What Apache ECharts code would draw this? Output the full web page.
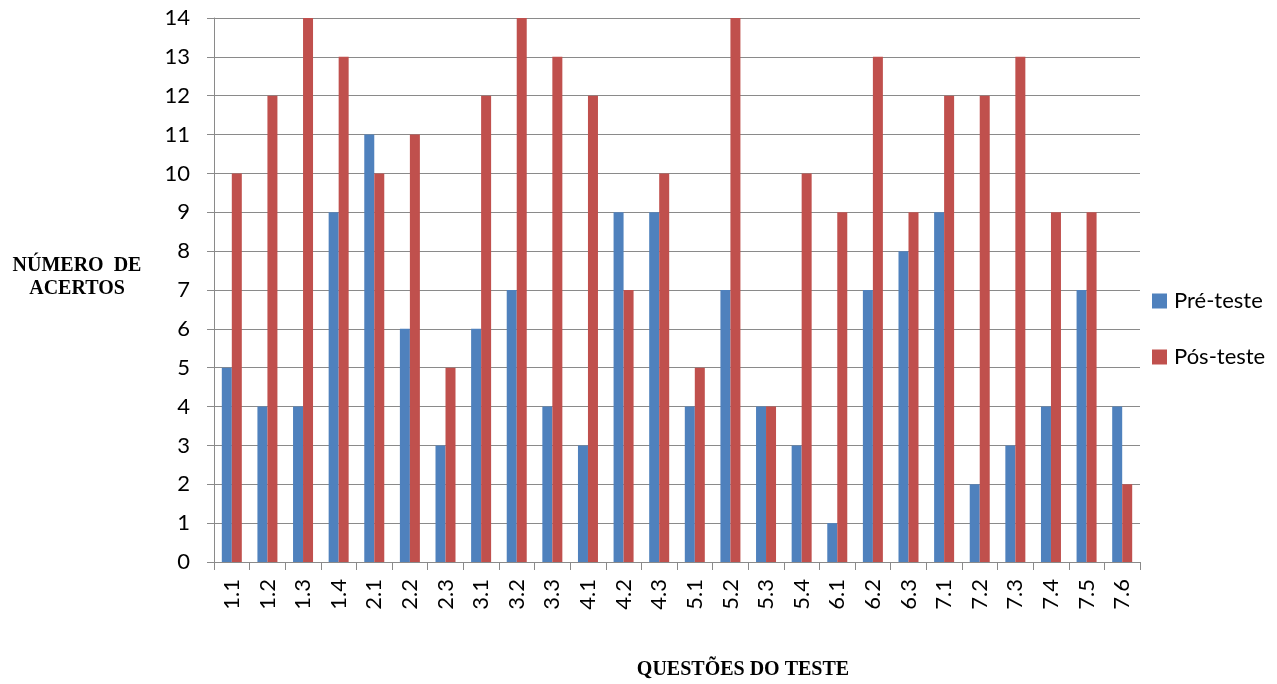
<!DOCTYPE html>
<html>
<head>
<meta charset="utf-8">
<script src="https://cdn.jsdelivr.net/npm/echarts@6/dist/echarts.min.js"></script>
<style>
  html, body { margin: 0; padding: 0; background: #fff; }
  #chart { width: 1277px; height: 684px; }
</style>
</head>
<body>
<div id="chart"></div>
<script>
// Questions of the test
const questoes = ['1.1','1.2','1.3','1.4','2.1','2.2','2.3','3.1','3.2','3.3','4.1','4.2','4.3','5.1','5.2','5.3','5.4','6.1','6.2','6.3','7.1','7.2','7.3','7.4','7.5','7.6'];
// Correct answers before and after
const preTeste = [5,4,4,9,11,6,3,6,7,4,3,9,9,4,7,4,3,1,7,8,9,2,3,4,7,4];
const posTeste = [10,12,14,13,10,11,5,12,14,13,12,7,10,5,14,4,10,9,13,9,12,12,13,9,9,2];

const labelFont = 'Lato, "Open Sans", sans-serif';
const titleFont = 'bold 20px "Liberation Serif", "Times New Roman", serif';
const gridColor = '#8a8a8a';

const chart = echarts.init(document.getElementById('chart'));
chart.setOption({
  animation: false,
  backgroundColor: '#ffffff',
  grid: { left: 214, right: 137, top: 18, bottom: 122, containLabel: false },
  legend: {
    orient: 'vertical',
    left: 1147,
    top: 285,
    itemWidth: 15,
    itemHeight: 15,
    itemGap: 34,
    icon: 'rect',
    textStyle: { fontFamily: labelFont, fontSize: 22, lineHeight: 22, color: '#000', padding: [0, 0, 0, 2] },
    data: ['Pré-teste', 'Pós-teste']
  },
  xAxis: {
    type: 'category',
    data: questoes,
    boundaryGap: true,
    axisLine: { show: true, lineStyle: { color: gridColor, width: 1 } },
    axisTick: { show: true, length: 8, alignWithLabel: false, lineStyle: { color: gridColor } },
    axisLabel: { rotate: 90, fontFamily: labelFont, fontSize: 22, color: '#000', margin: 17, interval: 0 }
  },
  yAxis: {
    type: 'value',
    min: 0,
    max: 14,
    interval: 1,
    axisLine: { show: true, lineStyle: { color: gridColor, width: 1 } },
    axisTick: { show: true, length: 7, lineStyle: { color: gridColor } },
    axisLabel: { fontFamily: labelFont, fontSize: 22, color: '#000', margin: 24 },
    splitLine: { show: true, lineStyle: { color: gridColor, width: 1 } }
  },
  graphic: [
    {
      type: 'text',
      x: 77,
      y: 254,
      style: {
        text: 'NÚMERO  DE\nACERTOS',
        font: titleFont,
        fill: '#000',
        align: 'center',
        verticalAlign: 'top',
        lineHeight: 23
      }
    },
    {
      type: 'text',
      x: 743,
      y: 660,
      style: {
        text: 'QUESTÕES DO TESTE',
        font: titleFont,
        fill: '#000',
        align: 'center',
        verticalAlign: 'top'
      }
    }
  ],
  series: [
    {
      name: 'Pré-teste',
      type: 'bar',
      data: preTeste,
      barWidth: 10,
      barGap: '0%',
      itemStyle: { color: '#4F81BD' }
    },
    {
      name: 'Pós-teste',
      type: 'bar',
      data: posTeste,
      barWidth: 10,
      barGap: '0%',
      itemStyle: { color: '#C0504D' }
    }
  ]
});
</script>
</body>
</html>
